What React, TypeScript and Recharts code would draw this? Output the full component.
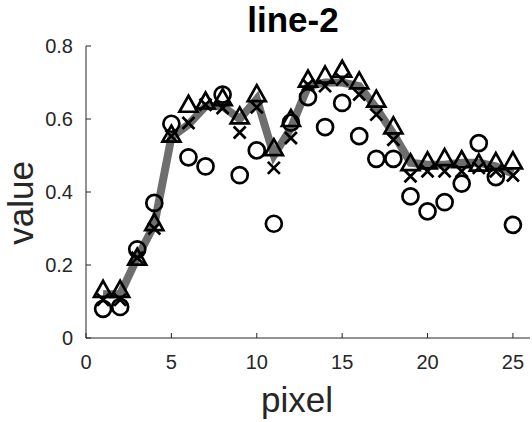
import React from 'react';
import { ComposedChart, Line, Scatter, XAxis, YAxis } from 'recharts';

const pixels = [1, 2, 3, 4, 5, 6, 7, 8, 9, 10, 11, 12, 13, 14, 15, 16, 17, 18, 19, 20, 21, 22, 23, 24, 25];
const lineValues = [0.12, 0.12, 0.22, 0.31, 0.55, 0.585, 0.635, 0.635, 0.6, 0.655, 0.5, 0.575, 0.69, 0.7, 0.7, 0.69, 0.63, 0.56, 0.48, 0.475, 0.475, 0.48, 0.48, 0.47, 0.45];
const circleValues = [0.08, 0.085, 0.243, 0.37, 0.587, 0.495, 0.47, 0.667, 0.446, 0.514, 0.313, 0.59, 0.66, 0.578, 0.644, 0.553, 0.491, 0.491, 0.388, 0.347, 0.372, 0.423, 0.534, 0.441, 0.31];
const crossValues = [0.105, 0.105, 0.22, 0.3, 0.553, 0.589, 0.639, 0.63, 0.563, 0.632, 0.466, 0.548, 0.694, 0.69, 0.708, 0.667, 0.612, 0.543, 0.443, 0.457, 0.457, 0.457, 0.466, 0.457, 0.445];
const triangleValues = [0.132, 0.132, 0.22, 0.315, 0.557, 0.639, 0.648, 0.657, 0.607, 0.668, 0.52, 0.6, 0.708, 0.719, 0.735, 0.703, 0.653, 0.58, 0.479, 0.484, 0.493, 0.487, 0.478, 0.482, 0.484];

const xTicks = [0, 5, 10, 15, 20, 25];
const yTicks = [0, 0.2, 0.4, 0.6, 0.8];

const toRows = (vals: number[]) => pixels.map((x, i) => ({ x, y: vals[i] }));

const FONT = '"Liberation Sans", Arial, Helvetica, sans-serif';
const INK = '#262626';

const Circle = (p: any) => (
  <circle cx={p.cx} cy={p.cy} r={8} fill="none" stroke="#000" strokeWidth={2.7} />
);
const Cross = (p: any) => (
  <path
    d={`M${p.cx - 6},${p.cy - 6}L${p.cx + 6},${p.cy + 6}M${p.cx - 6},${p.cy + 6}L${p.cx + 6},${p.cy - 6}`}
    stroke="#000"
    strokeWidth={2.7}
    fill="none"
  />
);
const Triangle = (p: any) => (
  <path
    d={`M${p.cx},${p.cy - 9}L${p.cx + 9},${p.cy + 7}L${p.cx - 9},${p.cy + 7}Z`}
    stroke="#000"
    strokeWidth={2.7}
    fill="none"
  />
);

const XTick = ({ x, y, payload }: any) => (
  <g>
    <line x1={x} y1={y} x2={x} y2={y - 5} stroke={INK} />
    <text x={x} y={y + 31} textAnchor="middle" fontSize={20} fill={INK} fontFamily={FONT}>
      {payload.value}
    </text>
  </g>
);

const YTick = ({ x, y, payload }: any) => (
  <g>
    <line x1={x} y1={y} x2={x + 5} y2={y} stroke={INK} />
    <text x={x - 13} y={y + 7} textAnchor="end" fontSize={20} fill={INK} fontFamily={FONT}>
      {payload.value}
    </text>
  </g>
);

export default function App() {
  return (
    <div style={{ position: 'absolute', left: 0, top: 0, width: 532, height: 422, background: '#fff' }}>
      <ComposedChart width={532} height={422} margin={{ top: 46, right: 2, bottom: 0, left: 36 }}>
        <XAxis
          dataKey="x"
          type="number"
          domain={[0, 26]}
          ticks={xTicks}
          tickLine={false}
          tickSize={0}
          tickMargin={0}
          tick={<XTick />}
          stroke={INK}
          height={84}
          allowDuplicatedCategory={false}
        />
        <YAxis
          type="number"
          domain={[0, 0.8]}
          ticks={yTicks}
          tickLine={false}
          tickSize={0}
          tickMargin={0}
          tick={<YTick />}
          stroke={INK}
          width={50}
        />
        <Line
          data={toRows(lineValues)}
          dataKey="y"
          stroke="#6e6e6e"
          strokeWidth={8}
          dot={false}
          isAnimationActive={false}
        />
        <Scatter data={toRows(circleValues)} dataKey="y" shape={Circle} isAnimationActive={false} />
        <Scatter data={toRows(crossValues)} dataKey="y" shape={Cross} isAnimationActive={false} />
        <Scatter data={toRows(triangleValues)} dataKey="y" shape={Triangle} isAnimationActive={false} />
      </ComposedChart>
      <svg width={532} height={422} style={{ position: 'absolute', left: 0, top: 0, pointerEvents: 'none' }}>
        <text x={293} y={32} textAnchor="middle" fontSize={35} fontWeight="bold" fill="#000" fontFamily={FONT}>
          line-2
        </text>
        <text x={297} y={412} textAnchor="middle" fontSize={35} fill={INK} fontFamily={FONT}>
          pixel
        </text>
        <text
          x={0}
          y={0}
          transform="translate(33,203) rotate(-90)"
          textAnchor="middle"
          fontSize={35}
          fill={INK}
          fontFamily={FONT}
        >
          value
        </text>
      </svg>
    </div>
  );
}
